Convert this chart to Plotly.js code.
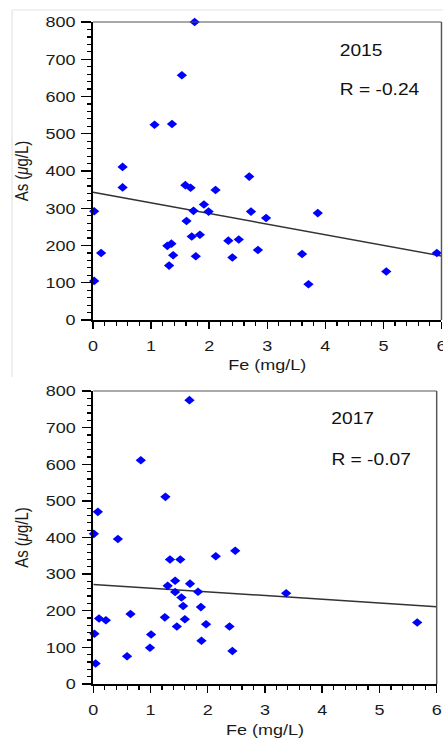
<!DOCTYPE html>
<html>
<head>
<meta charset="utf-8">
<script src="https://cdn.plot.ly/plotly-3.0.1.min.js"></script>
<style>
html, body { margin: 0; padding: 0; overflow: hidden; background: #fff; }
#chart { width: 369px; height: 738px; transform: scaleX(1.2005); transform-origin: 0 0; }
</style>
</head>
<body>
<div id="chart"></div>
<script>
// 2015 panel
const fe2015 = [1.75, 1.53, 1.06, 1.36, 0.51, 2.69, 0.51, 0.02, 0.14, 0.02, 1.59, 1.68, 2.11, 1.91, 1.73, 1.99, 2.72, 2.98, 3.87, 1.61, 1.70, 1.84, 1.28, 1.35, 1.38, 1.31, 1.77, 2.33, 2.51, 2.40, 2.84, 3.60, 3.71, 5.05, 5.92];
const as2015 = [800, 657, 524, 526, 411, 385, 356, 292, 180, 105, 362, 355, 349, 310, 293, 291, 291, 274, 287, 266, 224, 229, 199, 205, 174, 146, 171, 213, 216, 168, 188, 177, 96, 130, 180];
const fit2015X = [0, 6];
const fit2015Y = [343, 172];
const label2015 = "2015";
const r2015 = "R = -0.24";

// 2017 panel
const fe2017 = [1.68, 0.83, 1.26, 0.08, 0.01, 0.43, 2.48, 1.34, 1.52, 2.14, 1.30, 1.43, 1.43, 1.69, 1.83, 3.37, 1.54, 1.57, 1.88, 1.60, 1.25, 1.46, 1.97, 2.38, 1.89, 2.43, 1.01, 0.99, 0.59, 0.65, 0.10, 0.22, 0.02, 0.04, 5.66];
const as2017 = [775, 611, 511, 470, 410, 396, 364, 340, 340, 349, 268, 282, 251, 274, 252, 248, 236, 213, 210, 177, 182, 157, 163, 157, 118, 90, 135, 99, 76, 191, 179, 174, 137, 56, 168];
const fit2017X = [0, 6];
const fit2017Y = [272, 211];
const label2017 = "2017";
const r2017 = "R = -0.07";

const xTitle = "Fe (mg/L)";
const yTitle = "As (<i>μ</i>g/L)";

const FONT = "Liberation Sans, Arial, Helvetica, sans-serif";
const marker = { symbol: "diamond", size: 6.6, color: "#0000ff", line: { width: 0 } };
const fitLine = { color: "#333333", width: 1.5 };

const traces = [
  { x: fit2015X, y: fit2015Y, mode: "lines", line: fitLine, xaxis: "x", yaxis: "y", hoverinfo: "skip", cliponaxis: false },
  { x: fe2015, y: as2015, mode: "markers", marker: marker, xaxis: "x", yaxis: "y", cliponaxis: false },
  { x: fit2017X, y: fit2017Y, mode: "lines", line: fitLine, xaxis: "x2", yaxis: "y2", hoverinfo: "skip", cliponaxis: false },
  { x: fe2017, y: as2017, mode: "markers", marker: marker, xaxis: "x2", yaxis: "y2", cliponaxis: false }
];

function xax(domain, anchor, standoff) {
  return {
    domain: domain, anchor: anchor, range: [0, 6], dtick: 1, tick0: 0,
    showgrid: false, zeroline: false, showline: true, linecolor: "#000", linewidth: 1.7,
    ticks: "outside", ticklen: 7, tickwidth: 1.2, tickcolor: "#000", ticklabelstandoff: 4,
    ticklabeloverflow: "allow",
    minor: { dtick: 0.2, ticks: "outside", ticklen: 4, tickwidth: 1, tickcolor: "#000", showgrid: false },
    tickfont: { family: FONT, size: 15, color: "#1a1a1a" },
    title: { text: xTitle, font: { family: FONT, size: 15, color: "#1a1a1a" }, standoff: standoff },
    fixedrange: true
  };
}
function yax(domain, anchor) {
  return {
    domain: domain, anchor: anchor, range: [0, 800], dtick: 100, tick0: 0,
    showgrid: false, zeroline: false, showline: true, linecolor: "#000", linewidth: 1.6,
    ticks: "outside", ticklen: 8, tickwidth: 1.4, tickcolor: "#000", ticklabelstandoff: 2,
    ticklabeloverflow: "allow",
    minor: { dtick: 20, ticks: "outside", ticklen: 3.5, tickwidth: 1.2, tickcolor: "#000", showgrid: false },
    tickfont: { family: FONT, size: 15, color: "#1a1a1a" },
    title: { text: yTitle, font: { family: FONT, size: 15, color: "#1a1a1a" }, standoff: 10 },
    fixedrange: true
  };
}

const W = 443, H = 738;
const top1 = 1 - 22 / H, bot1 = 1 - 320 / H;
const top2 = 1 - 391 / H, bot2 = 1 - 684 / H;

const border = { color: "#555", width: 1.2 };
const shapes = [
  // outer light frame of the upper picture
  { type: "line", xref: "paper", yref: "paper", x0: 12 / W, x1: 1.01, y0: 1 - 10 / H, y1: 1 - 10 / H, line: { color: "#e3e3e3", width: 1 } },
  { type: "line", xref: "paper", yref: "paper", x0: 12 / W, x1: 12 / W, y0: 1 - 10 / H, y1: 1 - 377 / H, line: { color: "#e3e3e3", width: 1 } },
  // top/right frame of each plot
  { type: "line", xref: "x domain", yref: "y domain", x0: 0, x1: 1, y0: 1, y1: 1, line: border },
  { type: "line", xref: "x domain", yref: "y domain", x0: 1, x1: 1, y0: 0, y1: 1, line: border },
  { type: "line", xref: "x2 domain", yref: "y2 domain", x0: 0, x1: 1, y0: 1, y1: 1, line: border },
  { type: "line", xref: "x2 domain", yref: "y2 domain", x0: 1, x1: 1, y0: 0, y1: 1, line: border }
];

const annFont = { family: FONT, size: 16, color: "#111" };
const annotations = [
  { xref: "paper", yref: "paper", x: 337 / W, y: 1 - 50 / H, xanchor: "left", yanchor: "middle", text: label2015, showarrow: false, font: annFont },
  { xref: "paper", yref: "paper", x: 337 / W, y: 1 - 89 / H, xanchor: "left", yanchor: "middle", text: r2015, showarrow: false, font: annFont },
  { xref: "paper", yref: "paper", x: 329 / W, y: 1 - 418 / H, xanchor: "left", yanchor: "middle", text: label2017, showarrow: false, font: annFont },
  { xref: "paper", yref: "paper", x: 329 / W, y: 1 - 459 / H, xanchor: "left", yanchor: "middle", text: r2017, showarrow: false, font: annFont }
];

const layout = {
  width: 369, height: 738,
  margin: { l: 0, r: 0, t: 0, b: 0 },
  paper_bgcolor: "#fff", plot_bgcolor: "#fff",
  showlegend: false,
  font: { family: FONT, color: "#1a1a1a" },
  xaxis: xax([93 / W, 441.5 / W], "y", 7),
  yaxis: yax([bot1, top1], "x"),
  xaxis2: xax([93.3 / W, 436.7 / W], "y2", 16),
  yaxis2: yax([bot2, top2], "x2"),
  shapes: shapes,
  annotations: annotations
};

Plotly.newPlot("chart", traces, layout, { displayModeBar: false, staticPlot: true });
</script>
</body>
</html>
